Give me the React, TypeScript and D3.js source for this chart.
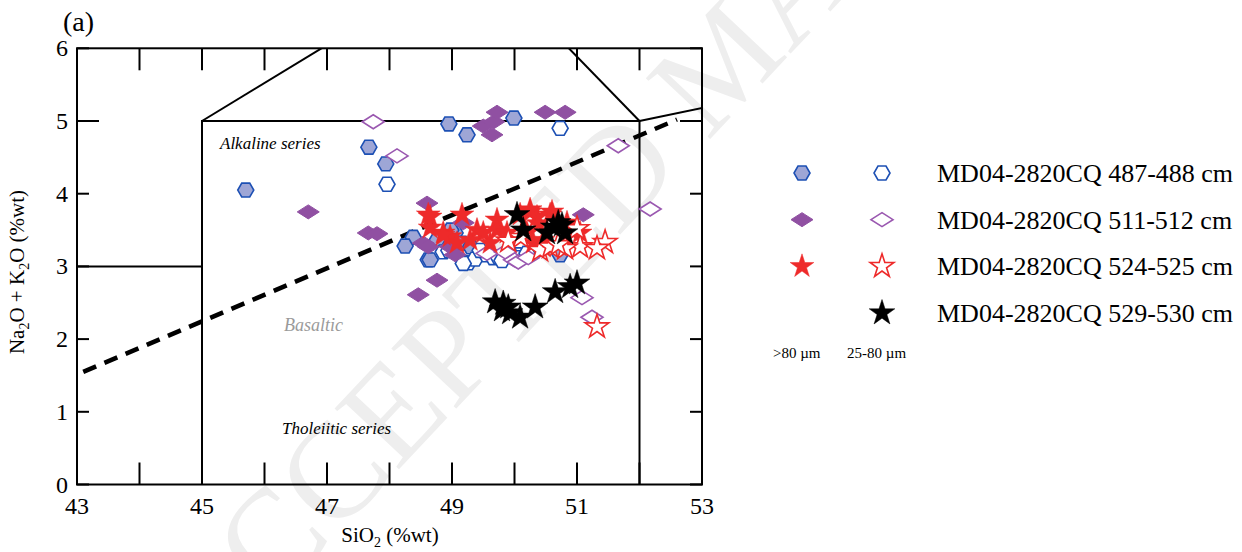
import React, { useRef, useEffect } from 'react';
import * as d3 from 'd3';

// SiO2 / total alkali pairs
const hexFilled = [
  [45.7, 4.05], [47.67, 4.64], [47.94, 4.41], [48.95, 4.96], [49.24, 4.81], [49.99, 5.04],
  [48.38, 3.40], [48.25, 3.28], [48.62, 3.09], [49.05, 3.46], [49.16, 3.32], [50.73, 3.16],
  [48.76, 3.36], [48.65, 3.09], [48.98, 3.5], [49.3, 3.27],
];
const hexOpen = [
  [47.96, 4.13], [50.73, 4.90], [48.86, 3.20], [49.26, 3.05], [49.37, 3.10], [49.55, 3.16],
  [49.66, 3.12], [49.74, 3.13], [49.88, 3.14], [50.04, 3.16], [50.09, 3.12], [49.18, 3.04],
  [49.45, 3.22], [49.9, 3.22], [50.2, 3.18], [49.8, 3.08], [48.95, 3.22],
];
const diamondFilled = [
  [46.7, 3.75], [47.66, 3.46], [47.8, 3.45], [48.6, 3.87], [49.5, 4.93], [49.67, 4.99],
  [49.72, 5.12], [49.64, 4.81], [50.49, 5.12], [50.81, 5.12], [48.46, 2.61], [48.76, 2.81],
  [48.54, 3.32], [48.62, 3.27], [49.05, 3.16], [51.1, 3.71], [49.18, 3.6], [48.97, 3.27],
];
const diamondOpen = [
  [47.74, 4.99], [48.12, 4.52], [51.66, 4.66], [52.17, 3.79], [51.08, 2.57], [51.24, 2.30],
  [50.0, 3.09], [50.06, 3.06], [49.56, 3.18], [50.22, 3.12], [49.85, 3.2],
];
const starRedFilled = [
  [48.65, 3.68], [49.16, 3.71], [48.86, 3.46], [48.97, 3.41], [49.4, 3.5], [49.5, 3.46],
  [49.72, 3.64], [49.72, 3.5], [49.88, 3.46], [50.09, 3.71], [50.25, 3.75], [50.36, 3.68],
  [50.2, 3.46], [50.57, 3.71], [49.08, 3.32], [49.29, 3.36], [49.61, 3.32], [50.3, 3.32],
  [50.46, 3.27], [50.84, 3.6], [51.05, 3.46], [50.25, 3.78], [50.6, 3.75], [50.38, 3.59],
  [50.46, 3.36], [50.94, 3.47], [48.62, 3.71], [48.65, 3.53], [48.86, 3.43],
];
const starRedOpen = [
  [51.05, 3.27], [51.0, 3.52], [51.45, 3.33], [51.32, 3.25], [50.41, 3.22], [50.57, 3.27],
  [50.81, 3.25], [51.32, 2.17], [50.7, 3.3], [50.1, 3.4], [49.9, 3.35],
];
const starBlack = [
  [50.04, 3.71], [50.14, 3.50], [50.62, 3.54], [50.76, 3.57], [50.52, 3.46], [50.81, 3.46],
  [50.7, 3.6], [49.69, 2.51], [49.82, 2.49], [49.9, 2.44], [49.8, 2.40], [49.93, 2.36],
  [50.09, 2.30], [50.33, 2.44], [50.65, 2.65], [50.89, 2.72], [51.0, 2.77],
];

// TAS field boundaries and the alkaline / tholeiitic divide
const fieldLines = [
  [[45, 0], [45, 5], [52, 5], [52, 0]],
  [[43, 3], [45, 3]],
  [[45, 5], [49.4, 7.3]],
  [[52, 5], [49.4, 7.3]],
  [[52, 5], [57, 5.9]],
];
const divideLine = [[43.1, 1.55], [52.6, 5.02]];

const xTicks = [43, 44, 45, 46, 47, 48, 49, 50, 51, 52, 53];
const xLabels = [43, 45, 47, 49, 51, 53];
const yTicks = [0, 1, 2, 3, 4, 5, 6];

const legendRows = [
  { label: 'MD04-2820CQ 487-488 cm', big: 'hexFilled', small: 'hexOpen' },
  { label: 'MD04-2820CQ 511-512 cm', big: 'diamondFilled', small: 'diamondOpen' },
  { label: 'MD04-2820CQ 524-525 cm', big: 'starRedFilled', small: 'starRedOpen' },
  { label: 'MD04-2820CQ 529-530 cm', big: null, small: 'starBlack' },
];

const hexPath = (r) => d3.line()(d3.range(6).map(i => [r * Math.cos(i * Math.PI / 3), r * Math.sin(i * Math.PI / 3)])) + 'Z';
const diamondPath = (w, h) => `M${-w},0L0,${-h}L${w},0L0,${h}Z`;
const starPath = (R) => d3.symbol(d3.symbolStar, (R * R) / 0.8908130915292852)();

const styles = {
  hexFilled: { d: hexPath(8), fill: '#9ea6d6', stroke: '#1d50b4', sw: 1.6 },
  hexOpen: { d: hexPath(8), fill: '#ffffff', stroke: '#1d50b4', sw: 1.6 },
  diamondFilled: { d: diamondPath(11, 7), fill: '#9050a2', stroke: '#9050a2', sw: 1 },
  diamondOpen: { d: diamondPath(11, 7), fill: '#ffffff', stroke: '#9a58b0', sw: 1.6 },
  starRedFilled: { d: starPath(12.5), fill: '#ee2a2a', stroke: '#ee2a2a', sw: 0.5 },
  starRedOpen: { d: starPath(12.5), fill: '#ffffff', stroke: '#ee2a2a', sw: 1.6 },
  starBlack: { d: starPath(13.5), fill: '#000000', stroke: '#000000', sw: 0.5 },
};

const series = [
  ['hexFilled', hexFilled], ['hexOpen', hexOpen], ['diamondFilled', diamondFilled],
  ['diamondOpen', diamondOpen], ['starRedFilled', starRedFilled], ['starRedOpen', starRedOpen],
  ['starBlack', starBlack],
];

const W = 1242, H = 552;
const FONT = '"Liberation Serif", "Times New Roman", serif';

const App = () => {
  const ref = useRef(null);

  useEffect(() => {
    const svg = d3.select(ref.current);
    svg.selectAll('*').remove();

    const x = d3.scaleLinear().domain([43, 53]).range([77, 702]);
    const y = d3.scaleLinear().domain([0, 6]).range([484.5, 48.3]);

    // watermark
    svg.append('text')
      .attr('transform', 'translate(206,674) rotate(-46.7)')
      .attr('font-family', FONT)
      .attr('font-size', 135)
      .attr('fill', '#eeeeee')
      .text('ACCEPTED MANUSCRIPT');

    svg.append('defs').append('clipPath').attr('id', 'plotclip')
      .append('rect')
      .attr('x', x(43)).attr('y', y(6))
      .attr('width', x(53) - x(43)).attr('height', y(0) - y(6));

    const plot = svg.append('g');
    const line = d3.line().x(d => x(d[0])).y(d => y(d[1]));

    // field boundaries
    plot.append('g').attr('clip-path', 'url(#plotclip)')
      .selectAll('path')
      .data(fieldLines)
      .join('path')
      .attr('d', line)
      .attr('fill', 'none')
      .attr('stroke', '#000')
      .attr('stroke-width', 2);

    plot.append('path')
      .attr('d', line(divideLine))
      .attr('fill', 'none')
      .attr('stroke', '#000')
      .attr('stroke-width', 4.5)
      .attr('stroke-dasharray', '14,9');

    // frame
    plot.append('rect')
      .attr('x', x(43)).attr('y', y(6))
      .attr('width', x(53) - x(43)).attr('height', y(0) - y(6))
      .attr('fill', 'none').attr('stroke', '#000').attr('stroke-width', 2);

    // ticks (inward)
    const tk = plot.append('g').attr('stroke', '#000').attr('stroke-width', 2);
    xTicks.forEach(t => {
      tk.append('line').attr('x1', x(t)).attr('x2', x(t)).attr('y1', y(0)).attr('y2', y(0) - 22);
      tk.append('line').attr('x1', x(t)).attr('x2', x(t)).attr('y1', y(6)).attr('y2', y(6) + 22);
    });
    yTicks.forEach(t => {
      const len = t === 5 ? 22 : 12;
      tk.append('line').attr('x1', x(43)).attr('x2', x(43) + len).attr('y1', y(t)).attr('y2', y(t));
      tk.append('line').attr('x1', x(53)).attr('x2', x(53) - len).attr('y1', y(t)).attr('y2', y(t));
    });

    // tick labels
    plot.append('g').selectAll('text')
      .data(xLabels)
      .join('text')
      .attr('x', d => x(d)).attr('y', y(0) + 29)
      .attr('text-anchor', 'middle')
      .attr('font-family', FONT).attr('font-size', 24)
      .text(d => d);
    plot.append('g').selectAll('text')
      .data(yTicks)
      .join('text')
      .attr('x', x(43) - 9).attr('y', d => y(d) + 8)
      .attr('text-anchor', 'end')
      .attr('font-family', FONT).attr('font-size', 24)
      .text(d => d);

    // axis titles
    const xt = plot.append('text')
      .attr('x', 390).attr('y', 542)
      .attr('text-anchor', 'middle')
      .attr('font-family', FONT).attr('font-size', 21);
    xt.append('tspan').text('SiO');
    xt.append('tspan').attr('font-size', 14).attr('dy', 5).text('2');
    xt.append('tspan').attr('dy', -5).text(' (%wt)');

    const yt = plot.append('text')
      .attr('transform', 'translate(24,272) rotate(-90)')
      .attr('text-anchor', 'middle')
      .attr('font-family', FONT).attr('font-size', 21);
    yt.append('tspan').text('Na');
    yt.append('tspan').attr('font-size', 14).attr('dy', 5).text('2');
    yt.append('tspan').attr('dy', -5).text('O + K');
    yt.append('tspan').attr('font-size', 14).attr('dy', 5).text('2');
    yt.append('tspan').attr('dy', -5).text('O (%wt)');

    plot.append('text')
      .attr('x', 63).attr('y', 31)
      .attr('font-family', FONT).attr('font-size', 28)
      .text('(a)');

    // field labels
    const lab = [
      { t: 'Alkaline series', x: 220, y: 149, c: '#000', s: 17 },
      { t: 'Basaltic', x: 284, y: 331, c: '#9a9a9a', s: 18 },
      { t: 'Tholeiitic series', x: 282, y: 434, c: '#000', s: 17 },
    ];
    plot.append('g').selectAll('text')
      .data(lab)
      .join('text')
      .attr('x', d => d.x).attr('y', d => d.y)
      .attr('font-family', FONT).attr('font-style', 'italic')
      .attr('font-size', d => d.s).attr('fill', d => d.c)
      .text(d => d.t);

    // points
    series.forEach(([key, pts]) => {
      const st = styles[key];
      plot.append('g').selectAll('path')
        .data(pts)
        .join('path')
        .attr('transform', d => `translate(${x(d[0])},${y(d[1])})`)
        .attr('d', st.d)
        .attr('fill', st.fill)
        .attr('stroke', st.stroke)
        .attr('stroke-width', st.sw);
    });

    // legend
    const lg = svg.append('g');
    const rowY = d3.scalePoint().domain(legendRows.map(r => r.label)).range([173, 313]);
    legendRows.forEach(r => {
      const yy = rowY(r.label);
      [[r.big, 802], [r.small, 882]].forEach(([key, xx]) => {
        if (!key) return;
        const st = styles[key];
        lg.append('path')
          .attr('transform', `translate(${xx},${yy})`)
          .attr('d', st.d)
          .attr('fill', st.fill)
          .attr('stroke', st.stroke)
          .attr('stroke-width', st.sw);
      });
      lg.append('text')
        .attr('x', 937).attr('y', yy + 9)
        .attr('font-family', FONT).attr('font-size', 26)
        .text(r.label);
    });
    lg.append('text').attr('x', 773).attr('y', 358)
      .attr('font-family', FONT).attr('font-size', 15).text('>80 \u00b5m');
    lg.append('text').attr('x', 847).attr('y', 358)
      .attr('font-family', FONT).attr('font-size', 15).text('25-80 \u00b5m');
  }, []);

  return (
    <div style={{ position: 'absolute', left: 0, top: 0 }}>
      <svg ref={ref} width={W} height={H} style={{ display: 'block', background: '#fff' }} />
    </div>
  );
};

export default App;
